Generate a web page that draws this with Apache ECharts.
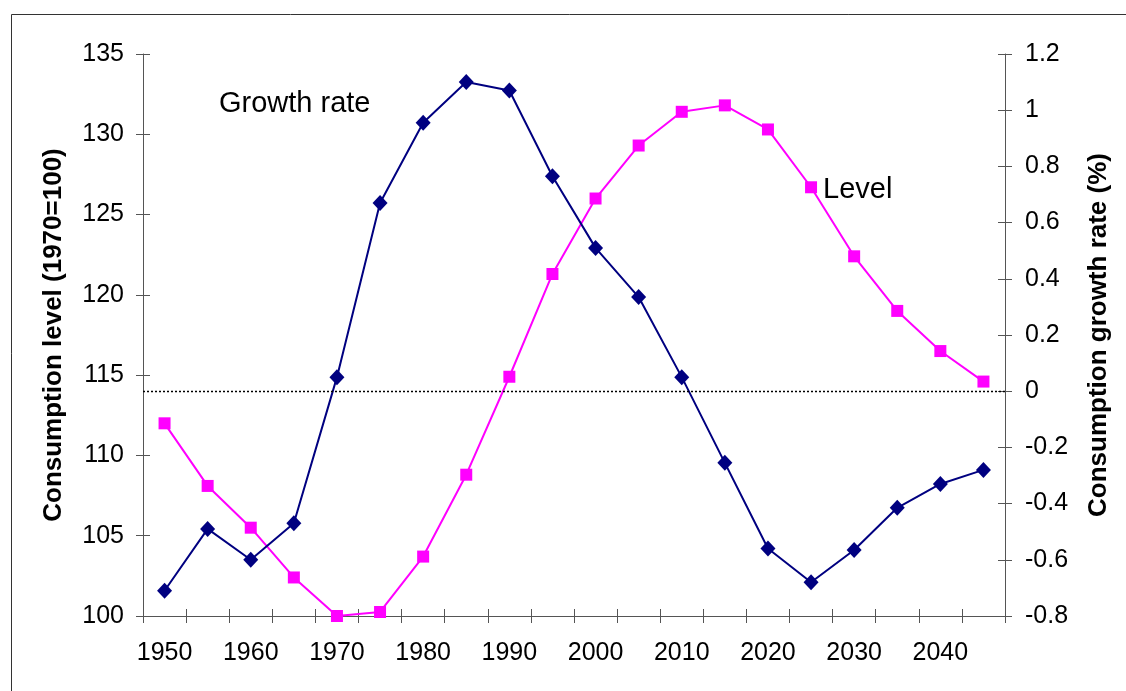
<!DOCTYPE html>
<html>
<head>
<meta charset="utf-8">
<script src="https://cdn.jsdelivr.net/npm/echarts@6/dist/echarts.min.js"></script>
<style>
html,body{margin:0;padding:0;background:#fff;}
#chart{width:1126px;height:691px;}
</style>
</head>
<body>
<div id="chart"></div>
<script>
var years = ['1950','1955','1960','1965','1970','1975','1980','1985','1990','1995',
             '2000','2005','2010','2015','2020','2025','2030','2035','2040','2045'];
var levelValues = [112.0, 108.1, 105.5, 102.4, 100.0, 100.25, 103.7, 108.8, 114.9, 121.3,
                   126.0, 129.3, 131.4, 131.8, 130.3, 126.7, 122.4, 119.0, 116.5, 114.6];
var growthValues = [-0.71, -0.49, -0.60, -0.47, 0.05, 0.67, 0.955, 1.10, 1.07, 0.765,
                    0.51, 0.335, 0.05, -0.255, -0.56, -0.68, -0.565, -0.415, -0.33, -0.28];
var leftTicks = {min: 100, max: 135, interval: 5};
var rightTicks = {min: -0.8, max: 1.2, interval: 0.2};
var leftTitle = 'Consumption level (1970=100)';
var rightTitle = 'Consumption growth rate (%)';
var growthLabel = 'Growth rate';
var levelLabel = 'Level';

var FONT = "'Liberation Sans', Arial, sans-serif";
var AXIS_COLOR = '#555555';

function rightFmt(v){
  var r = Math.round(v*10)/10;
  return String(r);
}

var chart = echarts.init(document.getElementById('chart'), null, {renderer:'canvas'});
var option = {
  backgroundColor: '#ffffff',
  animation: false,
  textStyle: {fontFamily: FONT},
  grid: {left: 143, right: 121, top: 54, bottom: 75, containLabel: false},
  graphic: [
    {type:'rect', left: 9, top: 12, silent: true,
     shape:{width: 1200, height: 800},
     style:{fill: 'none', stroke: '#333333', lineWidth: 1}},
    {type:'text', left: 219, top: 89, silent: true,
     style:{text: growthLabel, fontFamily: FONT, fontSize: 29, fill: '#000'}},
    {type:'text', left: 823, top: 175, silent: true,
     style:{text: levelLabel, fontFamily: FONT, fontSize: 29, fill: '#000'}}
  ],
  xAxis: [
    {type:'category', data: years, position:'bottom', boundaryGap: true,
     axisLine:{show:true, onZero:false, lineStyle:{color: AXIS_COLOR, width: 1}},
     axisTick:{show:true, interval:0, length:7, inside:false, lineStyle:{color: AXIS_COLOR}},
     axisLabel:{interval:1, color:'#000', fontSize: 25, fontFamily: FONT, margin: 25},
     splitLine:{show:false}},
    {type:'category', data: years, position:'bottom', boundaryGap: true,
     axisLine:{show:false, onZero:false},
     axisTick:{show:true, interval:0, length:7, inside:true, lineStyle:{color: AXIS_COLOR}},
     axisLabel:{show:false}, splitLine:{show:false}}
  ],
  yAxis: [
    {type:'value', position:'left', min: leftTicks.min, max: leftTicks.max, interval: leftTicks.interval,
     name: leftTitle, nameLocation:'middle', nameRotate: 90, nameGap: 76,
     nameTextStyle:{fontSize: 26, fontWeight:'bold', color:'#000', fontFamily: FONT},
     axisLine:{show:true, onZero:false, lineStyle:{color: AXIS_COLOR, width:1}},
     axisTick:{show:true, length:7, inside:false, lineStyle:{color: AXIS_COLOR}},
     axisLabel:{color:'#000', fontSize: 25, fontFamily: FONT, margin: 19},
     splitLine:{show:false}},
    {type:'value', position:'right', min: rightTicks.min, max: rightTicks.max, interval: rightTicks.interval,
     name: rightTitle, nameLocation:'middle', nameRotate: 90, nameGap: 81,
     nameTextStyle:{fontSize: 26, fontWeight:'bold', color:'#000', fontFamily: FONT},
     axisLine:{show:true, onZero:false, lineStyle:{color: AXIS_COLOR, width:1}},
     axisTick:{show:true, length:7, inside:false, lineStyle:{color: AXIS_COLOR}},
     axisLabel:{color:'#000', fontSize: 25, fontFamily: FONT, margin: 20, formatter: rightFmt},
     splitLine:{show:false}},
    {type:'value', position:'left', min: leftTicks.min, max: leftTicks.max, interval: leftTicks.interval,
     axisLine:{show:false, onZero:false},
     axisTick:{show:true, length:7, inside:true, lineStyle:{color: AXIS_COLOR}},
     axisLabel:{show:false}, splitLine:{show:false}},
    {type:'value', position:'right', min: rightTicks.min, max: rightTicks.max, interval: rightTicks.interval,
     axisLine:{show:false, onZero:false},
     axisTick:{show:true, length:7, inside:true, lineStyle:{color: AXIS_COLOR}},
     axisLabel:{show:false}, splitLine:{show:false}}
  ],
  series: [
    {name: levelLabel, type:'line', xAxisIndex:0, yAxisIndex:0, data: levelValues,
     symbol:'rect', symbolSize: 12, showAllSymbol: true,
     lineStyle:{color:'#FF00FF', width: 2},
     itemStyle:{color:'#FF00FF', borderWidth:0},
     z: 3},
    {name: growthLabel, type:'line', xAxisIndex:0, yAxisIndex:1, data: growthValues,
     symbol:'diamond', symbolSize: [15, 16], showAllSymbol: true,
     lineStyle:{color:'#000080', width: 2},
     itemStyle:{color:'#000080', borderWidth:0},
     z: 4,
     markLine:{silent:true, symbol:['none','none'], label:{show:false},
       lineStyle:{color:'#000000', type:[2, 2], width:1.3, opacity:1},
       data:[{yAxis: 0}]}}
  ]
};
chart.setOption(option);
</script>
</body>
</html>
